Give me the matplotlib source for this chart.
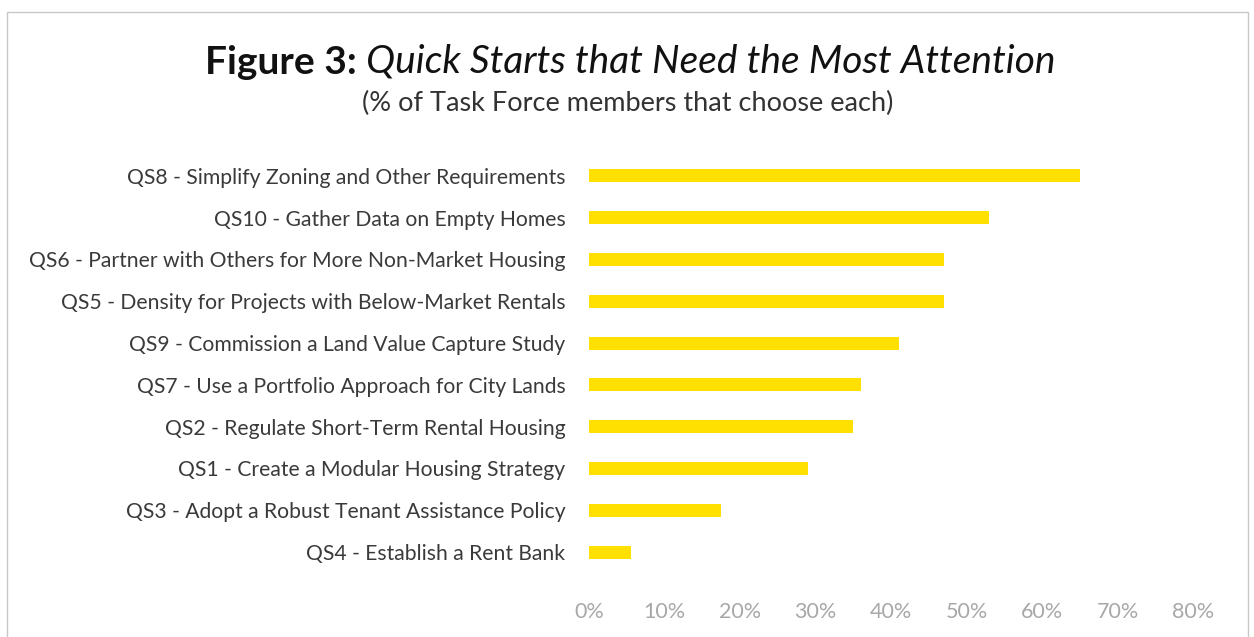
import matplotlib.pyplot as plt
from matplotlib.patches import Rectangle
from matplotlib.ticker import FuncFormatter

# Quick starts, top to bottom as shown
labels = [
    "QS8 - Simplify Zoning and Other Requirements",
    "QS10 - Gather Data on Empty Homes",
    "QS6 - Partner with Others for More Non-Market Housing",
    "QS5 - Density for Projects with Below-Market Rentals",
    "QS9 - Commission a Land Value Capture Study",
    "QS7 - Use a Portfolio Approach for City Lands",
    "QS2 - Regulate Short-Term Rental Housing",
    "QS1 - Create a Modular Housing Strategy",
    "QS3 - Adopt a Robust Tenant Assistance Policy",
    "QS4 - Establish a Rent Bank",
]
# Share of task force members (%)
values = [65, 53, 47, 47, 41, 36, 35, 29, 17.5, 5.5]
x_ticks = [0, 10, 20, 30, 40, 50, 60, 70, 80]

plt.rcParams['font.family'] = ['Lato', 'DejaVu Sans']

fig = plt.figure(figsize=(12.54, 6.37), dpi=100)
ax = fig.add_axes([0.4697, 0.1005, 0.4817, 0.6562])

pos = list(range(len(labels)))[::-1]
ax.barh(pos, values, height=0.31, color="#FFE000")

ax.set_xlim(0, 80)
ax.set_ylim(-0.5, len(labels) - 0.5)
ax.set_yticks(pos)
ax.set_yticklabels(labels, fontsize=15.2, color="#3a3a3a")
ax.set_xticks(x_ticks)
ax.xaxis.set_major_formatter(FuncFormatter(lambda v, p: f"{v:.0f}%"))
ax.tick_params(axis='x', labelsize=15.5, labelcolor="#a8a8a8", length=0, pad=21)
ax.tick_params(axis='y', length=0, pad=17)
for s in ax.spines.values():
    s.set_visible(False)

# Title: bold part then italic part
t1 = fig.text(205 / 1254, 1 - 62 / 637, "Figure 3:", fontsize=28, fontweight='bold',
              color="#111111", ha='left', va='center')
ax.annotate(" Quick Starts that Need the Most Attention", xy=(1, 0.5), xycoords=t1,
            fontsize=28, fontstyle='italic', color="#111111", ha='left', va='center',
            annotation_clip=False)
fig.text(628 / 1254, 1 - 103 / 637, "(% of Task Force members that choose each)",
         fontsize=19.5, color="#333333", ha='center', va='center')

# Light frame around the chart
fig.patches.append(Rectangle((7 / 1254, -0.05), 1241 / 1254, 1.05 - 12 / 637,
                             transform=fig.transFigure, fill=False,
                             edgecolor="#c8c8c8", linewidth=1))

fig.savefig("out.png", dpi=100, facecolor="white")
